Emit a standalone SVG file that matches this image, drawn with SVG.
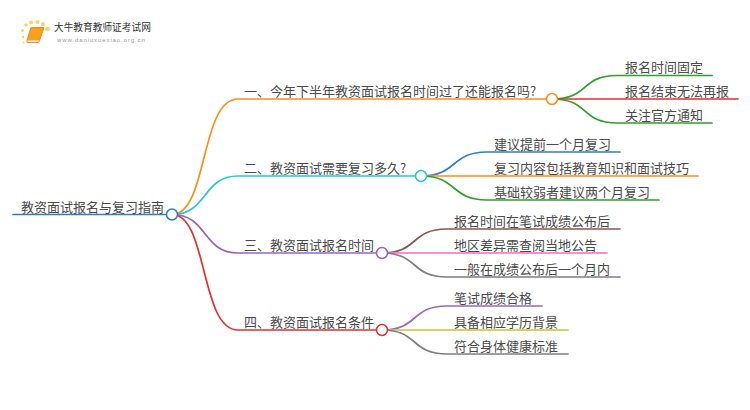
<svg xmlns="http://www.w3.org/2000/svg" width="750" height="410" viewBox="0 0 750 410">
<style>
text{font-family:"Noto Sans CJK SC","Liberation Sans",sans-serif;font-size:13px;fill:#4a4a4a}
.c{fill:none;stroke-width:1.700;stroke-linecap:round}
.n{fill:#fff;stroke-width:1.500}
.dot{fill:#fbd070}
</style>
<rect width="750" height="410" fill="#fff"/>
<g id="logo">
<circle class="dot" cx="23" cy="37" r="1.300"/><circle class="dot" cx="22.500" cy="30.500" r="1.500"/><circle class="dot" cx="26" cy="25" r="1.800"/><circle class="dot" cx="31" cy="22.500" r="2"/><circle class="dot" cx="37.500" cy="22" r="2"/><circle class="dot" cx="43" cy="24" r="2"/><circle class="dot" cx="47.500" cy="29" r="2.300"/><circle class="dot" cx="23.500" cy="42.500" r="1"/>
<path d="M31 27.500H44L39.500 40.500H27Z" fill="#f7a020" stroke="#ee8a10"/>
<path d="M27 40.500L27 42.500H38.500L39.500 40.500" fill="#fff" stroke="#ee8a10"/>
<text x="54" y="31" style="font-size:9.700px;fill:#333">大牛教育教师证考试网</text>
<text x="57" y="42" style="font-size:6px;letter-spacing:.9px;fill:#999;font-family:'Liberation Sans',sans-serif">www.daniuxuexiao.org.cn</text>
</g>
<g id="connectors">
<path class="c" stroke="#2f7fc1" d="M13 214.500H172"/>
<path class="c" stroke="#ff8c1a" d="M172 214.500C208 214.500 200 99 238 99H552"/>
<path class="c" stroke="#26c6da" d="M172 214.500C208 214.500 202 176 238 176H421"/>
<path class="c" stroke="#9467bd" d="M172 214.500C208 214.500 202 253 238 253H382"/>
<path class="c" stroke="#e03131" d="M172 214.500C208 214.500 200 330 238 330H382"/>
<path class="c" stroke="#2ca02c" d="M552 99C590 99 580 75.500 617 75.500H712"/>
<path class="c" stroke="#e03131" d="M552 99H738"/>
<path class="c" stroke="#2ca02c" d="M552 99C590 99 580 123 617 123H712"/>
<path class="c" stroke="#2f7fc1" d="M421 176C458 176 450 152 487 152H620"/>
<path class="c" stroke="#ff8c1a" d="M421 176H698"/>
<path class="c" stroke="#2ca02c" d="M421 176C458 176 450 200 487 200H659"/>
<path class="c" stroke="#8c564b" d="M382 253C419 253 410 229 447 229H620"/>
<path class="c" stroke="#f06cc8" d="M382 253H607"/>
<path class="c" stroke="#7f7f7f" d="M382 253C419 253 410 277 447 277H620"/>
<path class="c" stroke="#9467d0" d="M382 330C419 330 410 306 447 306H542"/>
<path class="c" stroke="#c5c536" d="M382 330H568"/>
<path class="c" stroke="#7f7f7f" d="M382 330C419 330 410 354 447 354H568"/>
</g>
<g id="root"><circle class="n" stroke="#2f7fc1" cx="172" cy="214.500" r="5.500"/><text x="21" y="212">教资面试报名与复习指南</text></g>
<g id="b1"><circle class="n" stroke="#ff8c1a" cx="552" cy="99" r="5.500"/><text x="244" y="96">一、今年下半年教资面试报名时间过了还能报名吗?</text></g>
<g id="b2"><circle class="n" stroke="#26c6da" cx="421" cy="176" r="5.500"/><text x="244" y="173">二、教资面试需要复习多久?</text></g>
<g id="b3"><circle class="n" stroke="#9467bd" cx="382" cy="253" r="5.500"/><text x="244" y="250">三、教资面试报名时间</text></g>
<g id="b4"><circle class="n" stroke="#e03131" cx="382" cy="330" r="5.500"/><text x="244" y="327">四、教资面试报名条件</text></g>
<g id="l11"><text x="625" y="72">报名时间固定</text></g>
<g id="l12"><text x="625" y="96">报名结束无法再报</text></g>
<g id="l13"><text x="625" y="120">关注官方通知</text></g>
<g id="l21"><text x="494" y="149">建议提前一个月复习</text></g>
<g id="l22"><text x="494" y="173">复习内容包括教育知识和面试技巧</text></g>
<g id="l23"><text x="494" y="197">基础较弱者建议两个月复习</text></g>
<g id="l31"><text x="454" y="226">报名时间在笔试成绩公布后</text></g>
<g id="l32"><text x="454" y="250">地区差异需查阅当地公告</text></g>
<g id="l33"><text x="454" y="274">一般在成绩公布后一个月内</text></g>
<g id="l41"><text x="454" y="303">笔试成绩合格</text></g>
<g id="l42"><text x="454" y="327">具备相应学历背景</text></g>
<g id="l43"><text x="454" y="351">符合身体健康标准</text></g>
</svg>
